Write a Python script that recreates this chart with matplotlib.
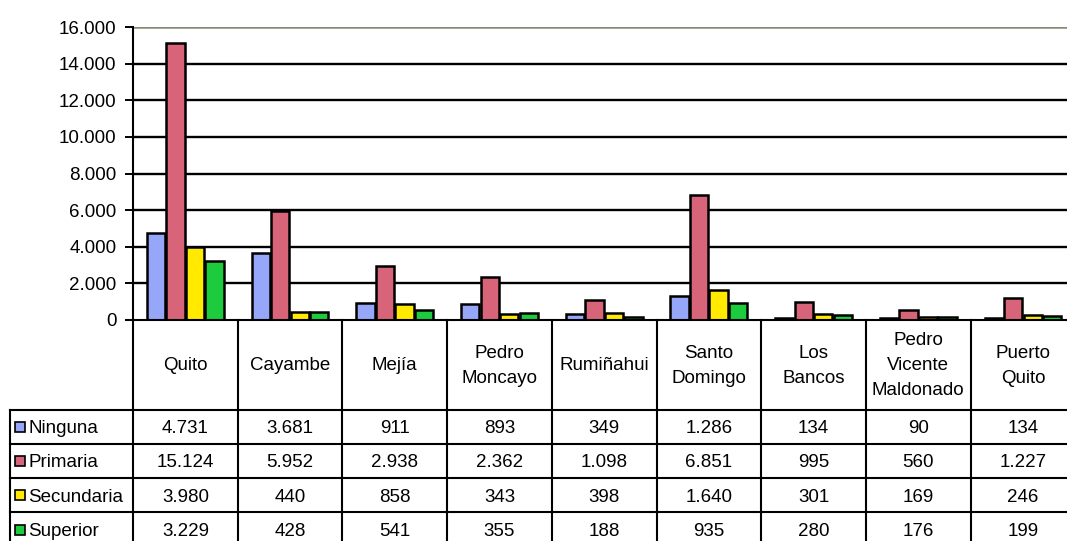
import matplotlib
matplotlib.use("Agg")
import matplotlib.pyplot as plt
from matplotlib import font_manager
import numpy as np

# Población por nivel de instrucción y cantón
cantones = ["Quito", "Cayambe", "Mejía", "Pedro\nMoncayo", "Rumiñahui",
            "Santo\nDomingo", "Los\nBancos", "Pedro\nVicente\nMaldonado",
            "Puerto\nQuito"]
niveles = ["Ninguna", "Primaria", "Secundaria", "Superior"]
ninguna = [4731, 3681, 911, 893, 349, 1286, 134, 90, 134]
primaria = [15124, 5952, 2938, 2362, 1098, 6851, 995, 560, 1227]
secundaria = [3980, 440, 858, 343, 398, 1640, 301, 169, 246]
superior = [3229, 428, 541, 355, 188, 935, 280, 176, 199]
series = [ninguna, primaria, secundaria, superior]
colores = ["#96a6f8", "#d8647a", "#ffea00", "#1ccc3c"]
yticks = [0, 2000, 4000, 6000, 8000, 10000, 12000, 14000, 16000]


def miles(v):
    return f"{v:,}".replace(",", ".")


W, H = 1067, 541
nombres = {f.name for f in font_manager.fontManager.ttflist}
if "Liberation Sans Narrow" in nombres:
    FAM, FS = "Liberation Sans Narrow", 15.5
else:
    FAM, FS = "Liberation Sans", 13.5
plt.rcParams["font.family"] = [FAM, "DejaVu Sans"]

fig = plt.figure(figsize=(W / 100, H / 100), dpi=100)

# geometry in pixels
x0, col_w = 133, 104.7
y_top, y_zero = 27, 320
hdr_bot = 409.5
row_h = 34.3
leg_x = 10

ax = fig.add_axes([x0 / W, (H - y_zero) / H, 9 * col_w / W, (y_zero - y_top) / H])
ax.set_xlim(0, 9)
ax.set_ylim(0, 16000)

x = np.arange(len(cantones)) + 0.5
bw, step = 0.175, 0.186
for k, (vals, c) in enumerate(zip(series, colores)):
    ax.bar(x + (k - 1.5) * step, vals, width=bw, color=c,
           edgecolor="black", linewidth=1.8, zorder=3)

ax.set_yticks(yticks)
ax.set_yticklabels([miles(t) for t in yticks], fontsize=FS)
ax.tick_params(axis="y", length=6, width=1.4, pad=6)
ax.set_xticks([])
for t in yticks[1:-1]:
    ax.axhline(t, color="black", lw=1.7, zorder=1)
ax.axhline(16000, color="#8a8a74", lw=1.8, zorder=1)
for s in ["top", "right", "bottom"]:
    ax.spines[s].set_visible(False)
ax.spines["left"].set_linewidth(1.5)

# data table under the chart, in pixel coordinates
tab = fig.add_axes([0, 0, 1, 1])
tab.set_xlim(0, W)
tab.set_ylim(H, 0)
tab.axis("off")
tab.patch.set_alpha(0)

lw = 1.5
x_end = x0 + 9 * col_w
tab.plot([x0 - 6, x_end], [y_zero, y_zero], color="black", lw=lw)
for i in range(10):
    xv = x0 + i * col_w
    tab.plot([xv, xv], [y_zero, H + 5], color="black", lw=lw)
tab.plot([leg_x, leg_x], [hdr_bot, H + 5], color="black", lw=lw)
for r in range(5):
    yv = hdr_bot + r * row_h
    tab.plot([leg_x, x_end], [yv, yv], color="black", lw=lw)

for i, nombre in enumerate(cantones):
    tab.text(x0 + (i + 0.5) * col_w, (y_zero + hdr_bot) / 2 + 1, nombre,
             ha="center", va="center", fontsize=FS, linespacing=1.6)

for r, (nivel, vals, c) in enumerate(zip(niveles, series, colores)):
    yc = hdr_bot + (r + 0.5) * row_h
    tab.add_patch(plt.Rectangle((15, yc - 5), 10, 10, facecolor=c,
                                edgecolor="black", lw=1.2))
    tab.text(28, yc + 2, nivel, ha="left", va="center", fontsize=FS)
    for i, v in enumerate(vals):
        tab.text(x0 + (i + 0.5) * col_w, yc + 2, miles(v),
                 ha="center", va="center", fontsize=FS)

fig.savefig("out.png", dpi=100)
